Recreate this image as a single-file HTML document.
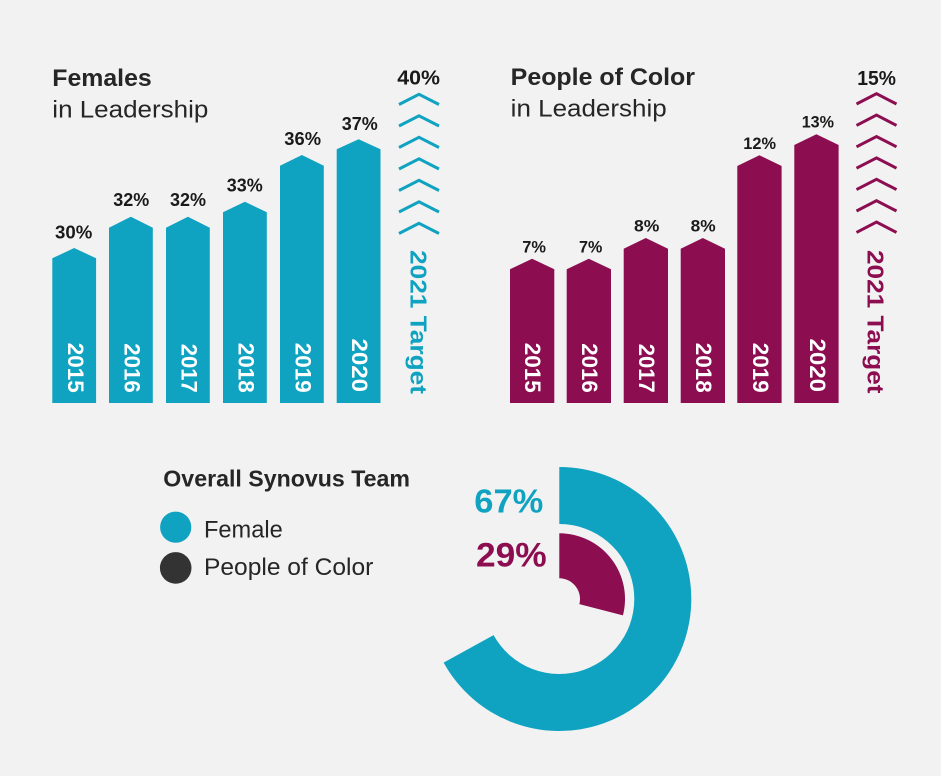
<!DOCTYPE html>
<html><head><meta charset="utf-8"><style>
html,body{margin:0;padding:0;background:#f2f2f2;}
svg{display:block;}
text{font-family:"Liberation Sans",Arial,sans-serif;}
</style></head><body>
<svg width="941" height="776" viewBox="0 0 941 776" xmlns="http://www.w3.org/2000/svg">
<rect width="941" height="776" fill="#f2f2f2"/>

<!-- LEFT CHART -->
<text x="52.3" y="86" font-size="24.5" font-weight="bold" fill="#262626" textLength="99.4" lengthAdjust="spacingAndGlyphs">Females</text>
<text x="52.3" y="117.3" font-size="24.5" fill="#262626" textLength="156" lengthAdjust="spacingAndGlyphs">in Leadership</text>

<g fill="#0fa3c1">
<polygon points="52.3,403 52.3,258.3 74.2,248 96.1,258.3 96.1,403"/>
<polygon points="109,403 109,227.7 130.9,216.7 152.8,227.7 152.8,403"/>
<polygon points="166,403 166,227.7 187.9,216.7 209.8,227.7 209.8,403"/>
<polygon points="223,403 223,212.3 244.9,201.7 266.8,212.3 266.8,403"/>
<polygon points="280,403 280,165.7 301.9,155 323.8,165.7 323.8,403"/>
<polygon points="336.7,403 336.7,149.3 358.6,139.3 380.5,149.3 380.5,403"/>
</g>

<g font-size="18" font-weight="bold" fill="#1a1a1a">
<text x="55" y="238.3" textLength="37.3" lengthAdjust="spacingAndGlyphs">30%</text>
<text x="113.3" y="206" textLength="36" lengthAdjust="spacingAndGlyphs">32%</text>
<text x="170" y="206" textLength="36" lengthAdjust="spacingAndGlyphs">32%</text>
<text x="226.7" y="191.7" textLength="36" lengthAdjust="spacingAndGlyphs">33%</text>
<text x="284.3" y="145" textLength="36.7" lengthAdjust="spacingAndGlyphs">36%</text>
<text x="341.7" y="130" textLength="36" lengthAdjust="spacingAndGlyphs">37%</text>
</g>

<g font-size="22" font-weight="bold" fill="#ffffff" text-anchor="end">
<text transform="translate(67.8,392.7) rotate(90)" textLength="50" lengthAdjust="spacingAndGlyphs">2015</text>
<text transform="translate(124.5,392.7) rotate(90)" textLength="49.5" lengthAdjust="spacingAndGlyphs">2016</text>
<text transform="translate(181.5,392.7) rotate(90)" textLength="49" lengthAdjust="spacingAndGlyphs">2017</text>
<text transform="translate(238.5,392.7) rotate(90)" textLength="50" lengthAdjust="spacingAndGlyphs">2018</text>
<text transform="translate(295.5,392.7) rotate(90)" textLength="50" lengthAdjust="spacingAndGlyphs">2019</text>
<text transform="translate(352,392) rotate(90)" textLength="53.5" lengthAdjust="spacingAndGlyphs">2020</text>
</g>

<text x="397.3" y="84.3" font-size="20.5" font-weight="bold" fill="#1a1a1a" textLength="42.7" lengthAdjust="spacingAndGlyphs">40%</text>
<g fill="none" stroke="#0fa3c1" stroke-width="3" stroke-linejoin="miter">
<polyline points="399,104.5 419,94.3 439,104.5"/>
<polyline points="399,126 419,115.8 439,126"/>
<polyline points="399,147.5 419,137.3 439,147.5"/>
<polyline points="399,169 419,158.8 439,169"/>
<polyline points="399,190.5 419,180.3 439,190.5"/>
<polyline points="399,212 419,201.8 439,212"/>
<polyline points="399,233.5 419,223.3 439,233.5"/>
</g>
<text transform="translate(410.5,394) rotate(90)" text-anchor="end" font-size="23.5" font-weight="bold" fill="#0fa3c1" textLength="144" lengthAdjust="spacingAndGlyphs">2021 Target</text>

<!-- RIGHT CHART -->
<text x="510.7" y="85" font-size="24.5" font-weight="bold" fill="#262626" textLength="184.3" lengthAdjust="spacingAndGlyphs">People of Color</text>
<text x="510.7" y="116.7" font-size="24.5" fill="#262626" textLength="156" lengthAdjust="spacingAndGlyphs">in Leadership</text>

<g fill="#8c0d50">
<polygon points="510,403 510,269.3 532.1,258.7 554.3,269.3 554.3,403"/>
<polygon points="566.7,403 566.7,269.3 588.8,258.7 611,269.3 611,403"/>
<polygon points="623.7,403 623.7,248.7 645.8,238 668,248.7 668,403"/>
<polygon points="680.7,403 680.7,248.7 702.8,238 725,248.7 725,403"/>
<polygon points="737.3,403 737.3,166 759.4,155.3 781.6,166 781.6,403"/>
<polygon points="794.3,403 794.3,145 816.4,134.3 838.6,145 838.6,403"/>
</g>

<g font-size="17" font-weight="bold" fill="#1a1a1a">
<text x="522.3" y="252.3" textLength="23.7" lengthAdjust="spacingAndGlyphs">7%</text>
<text x="579" y="252.3" textLength="23.3" lengthAdjust="spacingAndGlyphs">7%</text>
<text x="634" y="231.7" textLength="25.3" lengthAdjust="spacingAndGlyphs">8%</text>
<text x="690.7" y="231.7" textLength="25" lengthAdjust="spacingAndGlyphs">8%</text>
<text x="743.3" y="149" textLength="32.7" lengthAdjust="spacingAndGlyphs">12%</text>
<text x="801.7" y="127.3" textLength="32.3" lengthAdjust="spacingAndGlyphs">13%</text>
</g>

<g font-size="22" font-weight="bold" fill="#ffffff" text-anchor="end">
<text transform="translate(525,392.7) rotate(90)" textLength="50" lengthAdjust="spacingAndGlyphs">2015</text>
<text transform="translate(582,392.7) rotate(90)" textLength="49.5" lengthAdjust="spacingAndGlyphs">2016</text>
<text transform="translate(639,392.7) rotate(90)" textLength="49" lengthAdjust="spacingAndGlyphs">2017</text>
<text transform="translate(696,392.7) rotate(90)" textLength="50" lengthAdjust="spacingAndGlyphs">2018</text>
<text transform="translate(752.8,392.7) rotate(90)" textLength="50" lengthAdjust="spacingAndGlyphs">2019</text>
<text transform="translate(810,392) rotate(90)" textLength="53.5" lengthAdjust="spacingAndGlyphs">2020</text>
</g>

<text x="857.3" y="85" font-size="20.5" font-weight="bold" fill="#1a1a1a" textLength="38.7" lengthAdjust="spacingAndGlyphs">15%</text>
<g fill="none" stroke="#8c0d50" stroke-width="3" stroke-linejoin="miter">
<polyline points="856.5,104 876.5,93.7 896.5,104"/>
<polyline points="856.5,125.4 876.5,115.1 896.5,125.4"/>
<polyline points="856.5,146.8 876.5,136.5 896.5,146.8"/>
<polyline points="856.5,168.2 876.5,157.9 896.5,168.2"/>
<polyline points="856.5,189.6 876.5,179.3 896.5,189.6"/>
<polyline points="856.5,211 876.5,200.7 896.5,211"/>
<polyline points="856.5,232.4 876.5,222.1 896.5,232.4"/>
</g>
<text transform="translate(867.5,393.5) rotate(90)" text-anchor="end" font-size="23.5" font-weight="bold" fill="#8c0d50" textLength="143.5" lengthAdjust="spacingAndGlyphs">2021 Target</text>

<!-- BOTTOM -->
<text x="163.3" y="486.7" font-size="23" font-weight="bold" fill="#262626" textLength="246.7" lengthAdjust="spacingAndGlyphs">Overall Synovus Team</text>
<circle cx="175.7" cy="527.2" r="15.6" fill="#0fa3c1"/>
<circle cx="175.7" cy="567.9" r="15.8" fill="#333333"/>
<text x="204" y="537.3" font-size="24" fill="#262626" textLength="78.7" lengthAdjust="spacingAndGlyphs">Female</text>
<text x="204" y="575" font-size="24" fill="#262626" textLength="169.3" lengthAdjust="spacingAndGlyphs">People of Color</text>

<path d="M559.3,467 A132,132 0 1 1 443.63,662.6 L493.58,635.14 A75,75 0 1 0 559.3,524 Z" fill="#0fa3c1"/>
<path d="M559.3,533.3 A65.7,65.7 0 0 1 622.94,615.34 L579.35,604.15 A20.7,20.7 0 0 0 559.3,578.3 Z" fill="#8c0d50"/>

<text x="474.3" y="512.3" font-size="33.5" font-weight="bold" fill="#0fa3c1" textLength="69" lengthAdjust="spacingAndGlyphs">67%</text>
<text x="476" y="566.7" font-size="34.5" font-weight="bold" fill="#8c0d50" textLength="70.7" lengthAdjust="spacingAndGlyphs">29%</text>
</svg>
</body></html>
